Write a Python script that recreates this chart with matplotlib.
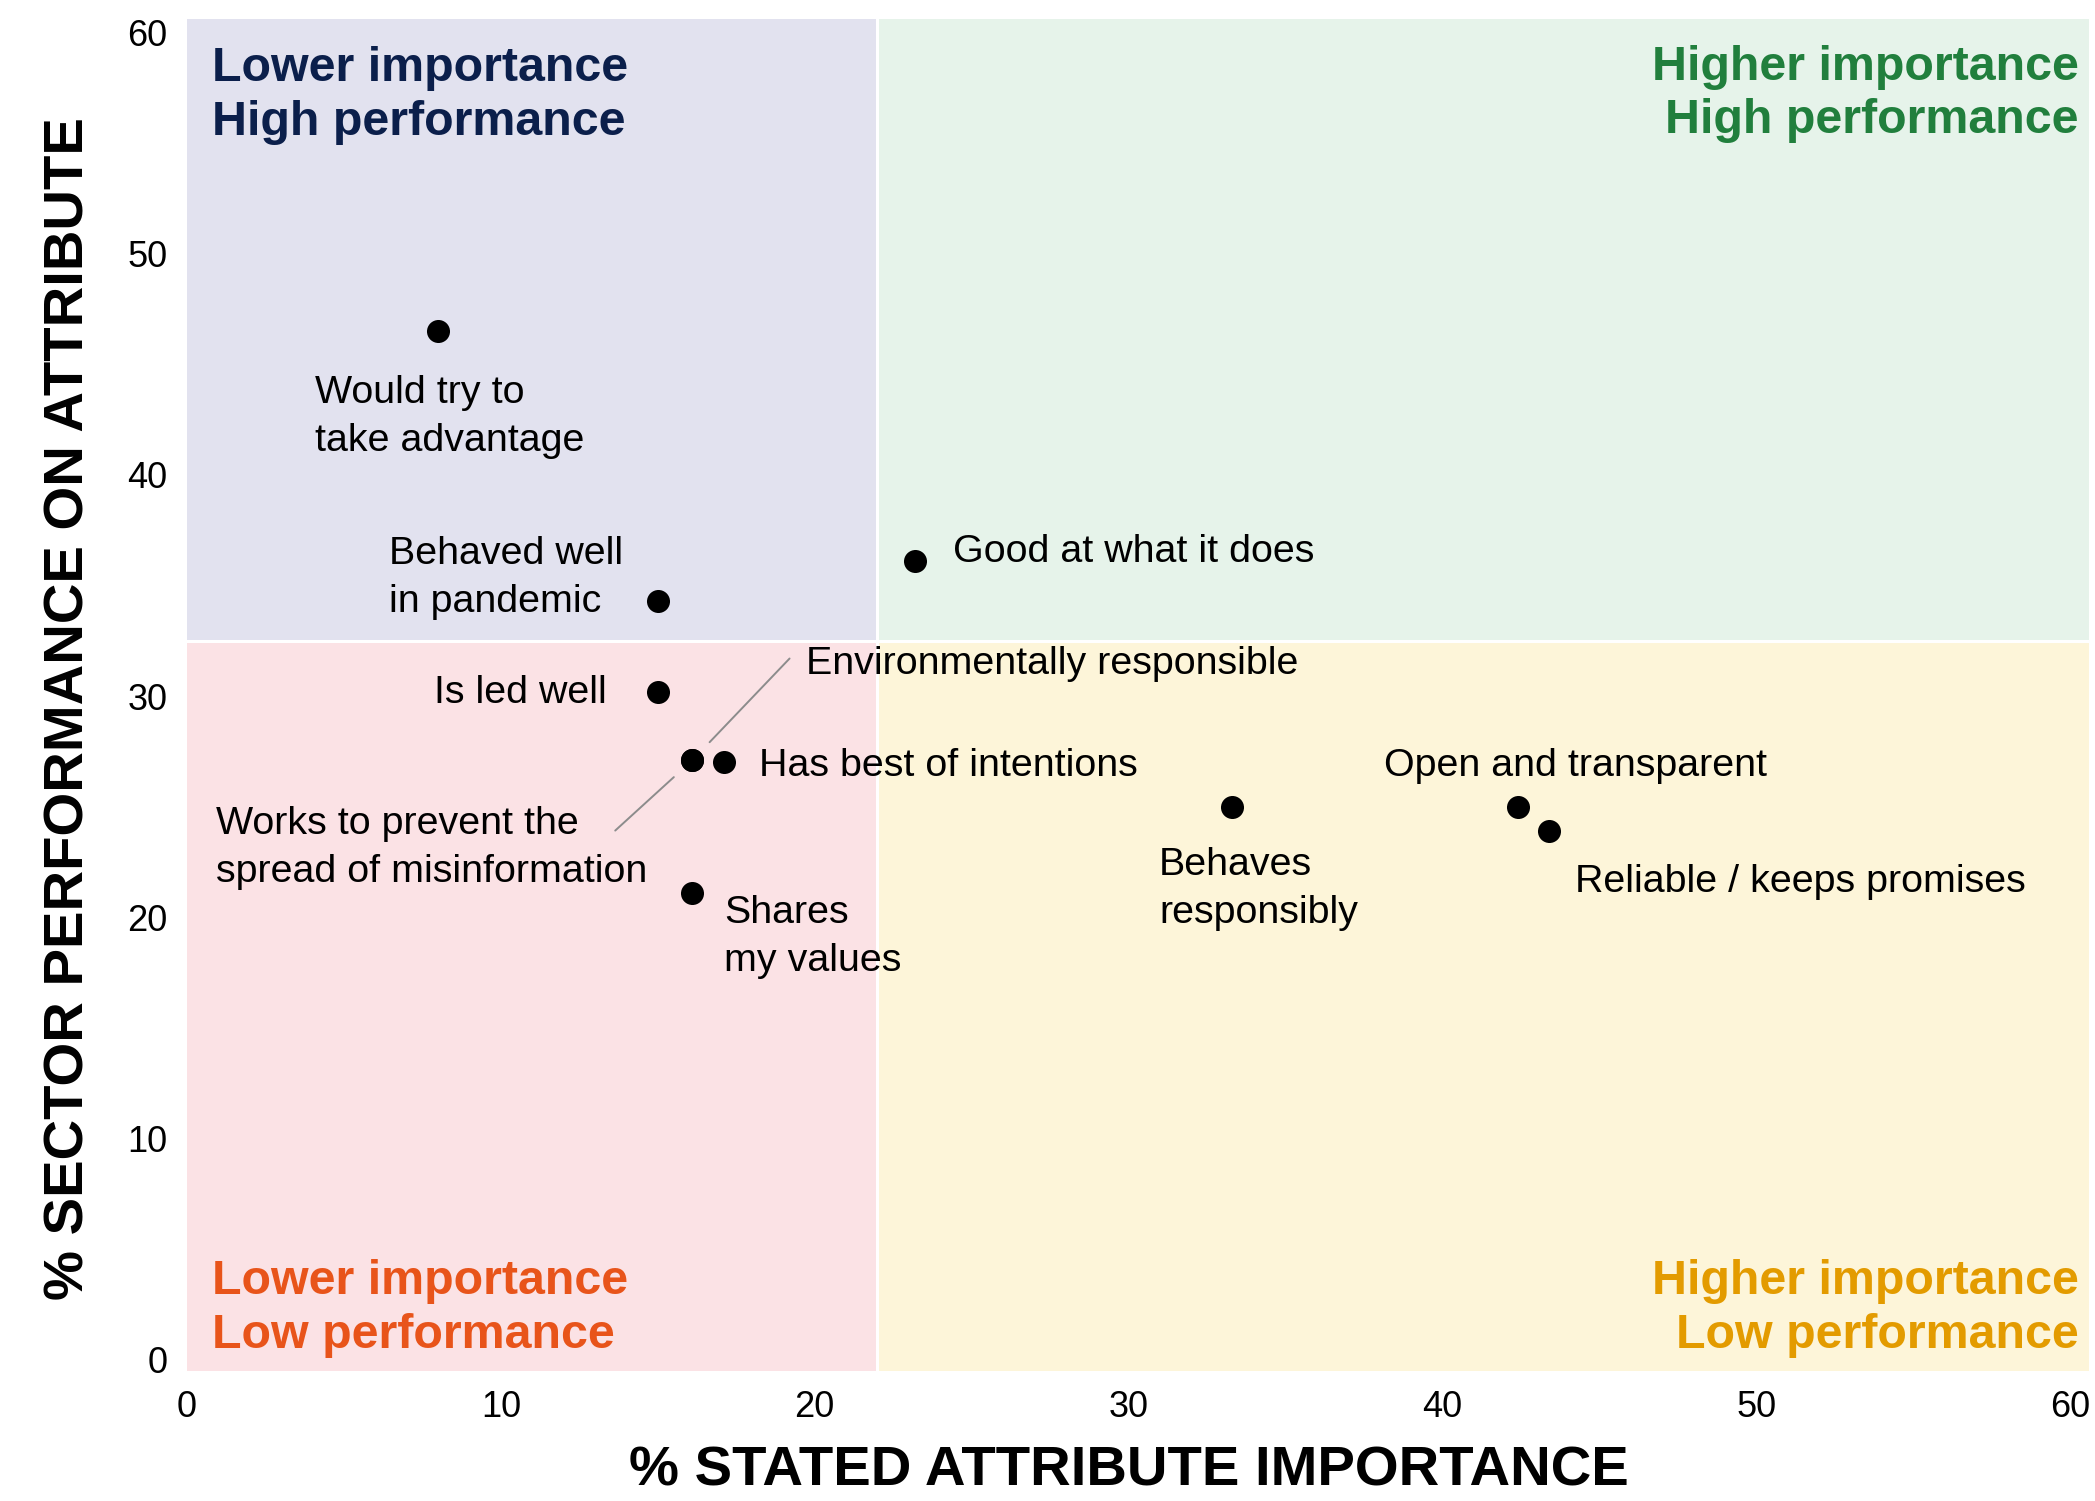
import matplotlib.pyplot as plt
from matplotlib.patches import Rectangle

plt.rcParams['font.family'] = ['Liberation Sans', 'DejaVu Sans']

# ---- data -------------------------------------------------------------
attributes = ['Would try to\ntake advantage', 'Behaved well\nin pandemic', 'Is led well',
              'Environmentally responsible', 'Works to prevent the\nspread of misinformation',
              'Has best of intentions', 'Shares\nmy values', 'Good at what it does',
              'Behaves\nresponsibly', 'Open and transparent', 'Reliable / keeps promises']
importance = [8.0, 15.0, 15.0, 16.1, 16.1, 17.1, 16.1, 23.2, 33.3, 42.4, 43.4]
performance = [46.5, 34.3, 30.2, 27.1, 27.1, 27.0, 21.1, 36.1, 25.0, 25.0, 23.9]

x_split = 22.0
y_split = 32.5
ticks = [0, 10, 20, 30, 40, 50, 60]

quad_titles = ['Lower importance\nHigh performance', 'Higher importance\nHigh performance',
               'Lower importance\nLow performance', 'Higher importance\nLow performance']

# ---- label placement (offset pixels from the point, ha, va, connector relpos)
label_pos = [
    (-123, -44, 'left', 'top', None),
    (-269, 65, 'left', 'top', None),
    (-51, -11, 'right', 'baseline', None),
    (114, 86, 'left', 'baseline', (-0.034, 0.66)),
    (-476, -46, 'left', 'top', (0.925, 0.71)),
    (35, -14, 'left', 'baseline', None),
    (32, -2, 'left', 'top', None),
    (38, -1, 'left', 'baseline', None),
    (-73, -40, 'left', 'top', None),
    (-134, 31, 'left', 'baseline', None),
    (26, -61, 'left', 'baseline', None),
]

W, H = 2095, 1501
fig = plt.figure(figsize=(W / 100, H / 100), dpi=100)
ax = fig.add_axes([187 / W, 1 - 1371 / H, 1902 / W, 1352 / H])

xmin, xmax = 0, 60.6
ymin, ymax = -0.5, 60.6
ax.set_xlim(xmin, xmax)
ax.set_ylim(ymin, ymax)

# quadrant backgrounds
quads = [
    (xmin, y_split, x_split - xmin, ymax - y_split, '#e2e2ef'),
    (x_split, y_split, xmax - x_split, ymax - y_split, '#e6f3ea'),
    (xmin, ymin, x_split - xmin, y_split - ymin, '#fbe2e5'),
    (x_split, ymin, xmax - x_split, y_split - ymin, '#fdf5d9'),
]
for x0, y0, w, h, c in quads:
    ax.add_patch(Rectangle((x0, y0), w, h, facecolor=c, edgecolor='none', zorder=0))
ax.axvline(x_split, color='white', lw=2.2, zorder=1)
ax.axhline(y_split, color='white', lw=2.2, zorder=1)

title_colors = ['#0b1f4b', '#217f3d', '#e8541a', '#e39b00']
title_xy = [(0.0131, 0.980, 'left', 'top'), (0.9947, 0.981, 'right', 'top'),
            (0.0131, 0.0096, 'left', 'bottom'), (0.9947, 0.0096, 'right', 'bottom')]
for t, c, (tx, ty, ha, va) in zip(quad_titles, title_colors, title_xy):
    ax.text(tx, ty, t, transform=ax.transAxes, ha=ha, va=va, color=c,
            fontsize=34.8, fontweight='bold', linespacing=1.25)

# points
ax.scatter(importance, performance, s=275, color='black', zorder=3, linewidths=0)

for lab, xv, yv, (dx, dy, ha, va, rel) in zip(attributes, importance, performance, label_pos):
    arrow = None
    if rel is not None:
        arrow = dict(arrowstyle='-', color='#8c8c8c', lw=1.4, patchA=None,
                     shrinkA=0, shrinkB=18, relpos=rel)
    ax.annotate(lab, (xv, yv), xytext=(dx, dy), textcoords='offset pixels',
                ha=ha, va=va, fontsize=28.4, color='black', linespacing=1.42,
                arrowprops=arrow, zorder=4)

ax.set_xticks(ticks)
ax.set_yticks(ticks)
ax.tick_params(length=0, labelsize=26, pad=14)
for s in ax.spines.values():
    s.set_visible(False)

ax.set_xlabel('% STATED ATTRIBUTE IMPORTANCE', fontsize=40.5, fontweight='bold')
ax.set_ylabel('% SECTOR PERFORMANCE ON ATTRIBUTE', fontsize=40.5, fontweight='bold')
ax.xaxis.set_label_coords(0.495, -0.0548)
ax.yaxis.set_label_coords(-0.048, 0.49)

fig.savefig('out.png', dpi=100)
